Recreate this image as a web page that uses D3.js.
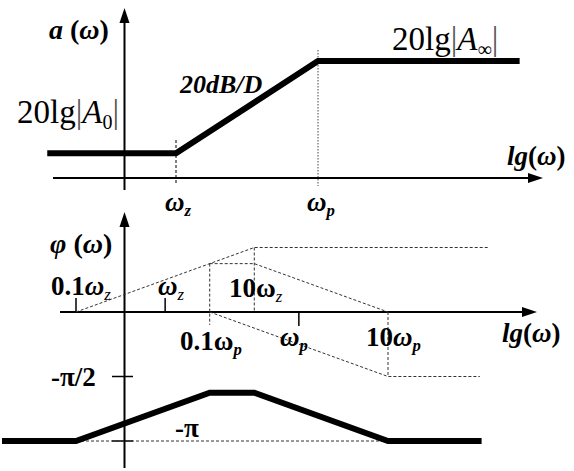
<!DOCTYPE html>
<html>
<head>
<meta charset="utf-8">
<script src="https://cdn.jsdelivr.net/npm/d3@7"></script>
<style>
  html, body { margin: 0; padding: 0; background: #fff; }
  svg { display: block; }
  text { font-family: "Liberation Serif", "Times New Roman", serif; fill: #000; }
</style>
</head>
<body>
<svg id="chart" width="574" height="471"></svg>
<script>
// Magnitude asymptote (Bode, zero at ωz, pole at ωp): lg(ω/ωz) vs dB
const magLg = [-1.36, 0, 1.5, 3.63];
const magDb = [8, 8, 38, 38];

// Total phase asymptote (degrees)
const phaseLg  = [-1.83, -1, 0.5, 1, 2.5, 3.55];
const phaseDeg = [-180, -180, -112.5, -112.5, -180, -180];

// Construction lines: zero contribution, pole contribution, their sum
const zeroLg  = [-1, 1, 3.62];
const zeroDeg = [0, 90, 90];
const poleLg  = [0.5, 2.5, 3.53];
const poleDeg = [0, -90, -90];
const sumLg   = [0.5, 1, 2.5];
const sumDeg  = [67.5, 67.5, 0];

// Decade marks on the phase axis
const tickLgUp   = [-1, 0];     // 0.1ωz, ωz
const tickLgDown = [1.5];       // ωp
const phaseTicks = [-90, -180]; // -π/2, -π

const svg = d3.select("#chart");

// ---------- scales ----------
const xTop = d3.scaleLinear().domain([0, 1.5]).range([176, 318]);
const yTop = d3.scaleLinear().domain([0, 38]).range([178, 61]);
const xPh  = d3.scaleLinear().domain([-1, 2.5]).range([76, 388]);
const yPh  = d3.scaleLinear().domain([0, -180]).range([312, 441]);

const axisX = 124.5;

function arrowHead(g, x, y, dir) {
  // filled triangle, tip at (x,y)
  const L = 15, W = 5;
  let pts;
  if (dir === "up") pts = [[x, y], [x - W, y + L], [x + W, y + L]];
  else pts = [[x, y], [x - L, y - W], [x - L, y + W]];
  g.append("path").attr("d", d3.line()(pts) + "Z").attr("fill", "#000");
}

const line = (xs, ys, X, Y) => d3.line()(xs.map((v, i) => [X(v), Y(ys[i])]));

// ================= magnitude plot =================
const magG = svg.append("g");

// horizontal axis
magG.append("line").attr("x1", 53).attr("x2", 530).attr("y1", yTop(0)).attr("y2", yTop(0))
  .attr("stroke", "#000").attr("stroke-width", 2);
arrowHead(magG, 543, yTop(0), "right");
// vertical axis
magG.append("line").attr("x1", axisX).attr("x2", axisX).attr("y1", 20).attr("y2", 190)
  .attr("stroke", "#000").attr("stroke-width", 2);
arrowHead(magG, axisX, 8, "up");

// guides at ωz and ωp
magG.append("line").attr("x1", xTop(0)).attr("x2", xTop(0)).attr("y1", 140).attr("y2", 184)
  .attr("stroke", "#000").attr("stroke-width", 1).attr("stroke-dasharray", "3,2");
magG.append("line").attr("x1", xTop(1.5)).attr("x2", xTop(1.5)).attr("y1", 50).attr("y2", 186)
  .attr("stroke", "#444").attr("stroke-width", 1).attr("stroke-dasharray", "1.5,1.5");

// asymptotic magnitude
magG.append("path").attr("d", line(magLg, magDb, xTop, yTop))
  .attr("fill", "none").attr("stroke", "#000").attr("stroke-width", 6)
  .attr("stroke-linejoin", "miter");

// labels
const aLab = magG.append("text").attr("x", 49).attr("y", 39).attr("font-size", 28).attr("font-weight", "bold");
aLab.append("tspan").attr("font-style", "italic").text("a");
aLab.append("tspan").text(" (");
aLab.append("tspan").attr("font-style", "italic").text("ω");
aLab.append("tspan").text(")");

magG.append("text").attr("x", 180).attr("y", 93).attr("font-size", 26)
  .attr("font-weight", "bold").attr("font-style", "italic").text("20dB/D");

function gainLabel(x, y, sub) {
  const t = magG.append("text").attr("x", x).attr("y", y).attr("font-size", 33);
  t.append("tspan").text("20lg");
  t.append("tspan").attr("fill", "#555").text("|");
  t.append("tspan").attr("font-style", "italic").text("A");
  t.append("tspan").attr("font-size", 20).attr("dy", 6).text(sub);
  t.append("tspan").attr("dy", -6).attr("fill", "#555").text("|");
}
gainLabel(17, 123, "0");
gainLabel(392, 50, "∞");

function omegaLabel(g, x, y, pre, sub, size, omegaItalic, subBold) {
  const t = g.append("text").attr("x", x).attr("y", y).attr("font-size", size).attr("font-weight", "bold");
  if (pre) t.append("tspan").text(pre);
  t.append("tspan").attr("font-style", omegaItalic ? "italic" : "normal").text("ω");
  t.append("tspan").attr("font-size", size * 0.62).attr("dy", 5)
    .attr("font-style", "italic").attr("font-weight", subBold ? "bold" : "normal").text(sub);
  return t;
}
omegaLabel(magG, 165, 211, "", "z", 27, true, true);
omegaLabel(magG, 307, 211, "", "p", 27, true, true);

function lgLabel(g, x, y) {
  const t = g.append("text").attr("x", x).attr("y", y).attr("font-size", 27).attr("font-weight", "bold");
  t.append("tspan").attr("font-style", "italic").text("lg");
  t.append("tspan").text("(");
  t.append("tspan").attr("font-style", "italic").text("ω");
  t.append("tspan").text(")");
}
lgLabel(magG, 507, 165);

// ================= phase plot =================
const ph = svg.append("g");

ph.append("line").attr("x1", 60).attr("x2", 524).attr("y1", yPh(0)).attr("y2", yPh(0))
  .attr("stroke", "#000").attr("stroke-width", 2);
arrowHead(ph, 537, yPh(0), "right");
ph.append("line").attr("x1", axisX).attr("x2", axisX).attr("y1", 224).attr("y2", 468)
  .attr("stroke", "#000").attr("stroke-width", 2);
arrowHead(ph, axisX, 212, "up");

// phase ticks on the vertical axis
ph.selectAll(".ytick").data(phaseTicks).join("line")
  .attr("x1", 112).attr("x2", 133).attr("y1", d => yPh(d)).attr("y2", d => yPh(d))
  .attr("stroke", "#000").attr("stroke-width", 1.5);

// decade ticks on the frequency axis
ph.selectAll(".xtu").data(tickLgUp).join("line")
  .attr("x1", d => xPh(d)).attr("x2", d => xPh(d)).attr("y1", yPh(0) - 14).attr("y2", yPh(0))
  .attr("stroke", "#000").attr("stroke-width", 1.5);
ph.selectAll(".xtd").data(tickLgDown).join("line")
  .attr("x1", d => xPh(d)).attr("x2", d => xPh(d)).attr("y1", yPh(0)).attr("y2", yPh(0) + 14)
  .attr("stroke", "#000").attr("stroke-width", 1.5);

const dash = sel => sel.attr("fill", "none").attr("stroke", "#333").attr("stroke-width", 1)
  .attr("stroke-dasharray", "3,2");

// construction lines
dash(ph.append("path").attr("d", line(zeroLg, zeroDeg, xPh, yPh)));
dash(ph.append("path").attr("d", line(poleLg, poleDeg, xPh, yPh)));
dash(ph.append("path").attr("d", line(sumLg, sumDeg, xPh, yPh)));
dash(ph.append("path").attr("d", line([0.5, 0.5], [67.5, -18], xPh, yPh)));
dash(ph.append("path").attr("d", line([1, 1], [90, 0], xPh, yPh)));
dash(ph.append("path").attr("d", line([2.5, 2.5], [0, -90], xPh, yPh)));
dash(ph.append("path").attr("d", line([-1, 2.5], [-180, -180], xPh, yPh)));

// total phase
ph.append("path").attr("d", line(phaseLg, phaseDeg, xPh, yPh))
  .attr("fill", "none").attr("stroke", "#000").attr("stroke-width", 6)
  .attr("stroke-linejoin", "miter");

// labels
const phiLab = ph.append("text").attr("x", 50).attr("y", 253).attr("font-size", 28).attr("font-weight", "bold");
phiLab.append("tspan").attr("font-style", "italic").text("φ");
phiLab.append("tspan").text(" (");
phiLab.append("tspan").attr("font-style", "italic").text("ω");
phiLab.append("tspan").text(")");

omegaLabel(ph, 51, 295, "0.1", "z", 27, true, false);
omegaLabel(ph, 158, 295, "", "z", 27, true, false);
omegaLabel(ph, 229, 297, "10", "z", 27, false, false);
omegaLabel(ph, 180, 350, "0.1", "p", 27, false, true);
omegaLabel(ph, 280, 346, "", "p", 27, true, true);
omegaLabel(ph, 366, 346, "10", "p", 27, true, true);

lgLabel(ph, 502, 342);

ph.append("text").attr("x", 51).attr("y", 386).attr("font-size", 27).attr("font-weight", "bold")
  .text("-π/2");
ph.append("text").attr("x", 175).attr("y", 437).attr("font-size", 27).attr("font-weight", "bold")
  .text("-π");
</script>
</body>
</html>
